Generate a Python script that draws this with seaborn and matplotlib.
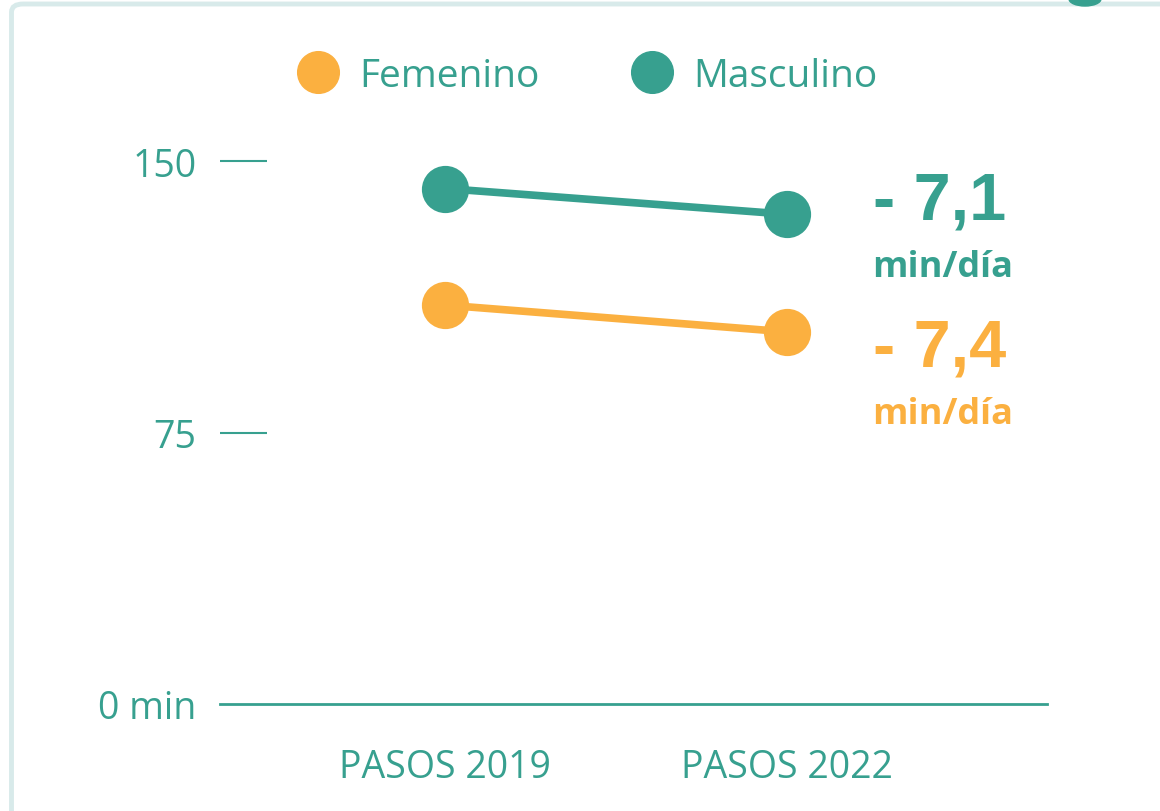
import matplotlib
matplotlib.use("Agg")
import matplotlib.pyplot as plt
import seaborn as sns
import pandas as pd
from matplotlib.lines import Line2D
from matplotlib.patches import FancyBboxPatch, Ellipse

# data (min/day of physical activity)
years = ["PASOS 2019", "PASOS 2022"]
femenino = [110.2, 102.8]
masculino = [142.4, 135.3]
y_ticks = [0, 75, 150]
y_tick_labels = ["0 min", "75", "150"]

TEAL = "#37a08f"
ORANGE = "#fbb040"
BORDER = "#d8eaea"

df = pd.DataFrame({
    "year": years * 2,
    "value": femenino + masculino,
    "sexo": ["Femenino"] * 2 + ["Masculino"] * 2,
})

sns.set_style("white")
plt.rcParams["font.family"] = ["Open Sans", "DejaVu Sans"]

fig = plt.figure(figsize=(11.6, 8.12), dpi=100)
ax = fig.add_axes([220 / 1160, 107 / 812, 827 / 1160, 564.7 / 812])

sns.lineplot(
    data=df, x="year", y="value", hue="sexo",
    palette={"Femenino": ORANGE, "Masculino": TEAL},
    marker="o", markersize=34, markeredgewidth=0, linewidth=5.5,
    legend=False, ax=ax,
)

ax.set_xlim(-0.658, 1.76)
ax.set_ylim(0, 156)
ax.set_xlabel("")
ax.set_ylabel("")
for s in ["top", "right", "left"]:
    ax.spines[s].set_visible(False)
ax.spines["bottom"].set_color(TEAL)
ax.spines["bottom"].set_linewidth(2)

ax.set_yticks(y_ticks)
ax.set_yticklabels(y_tick_labels)
ax.tick_params(axis="y", left=True, direction="in", length=34, width=1.5,
               color=TEAL, pad=17, labelsize=27, labelcolor=TEAL)
ax.tick_params(axis="x", bottom=False, length=0, pad=32, labelsize=27,
               labelcolor=TEAL)
ax.yaxis.get_major_ticks()[0].tick1line.set_visible(False)

# change labels at the right end (offsets from the last point)
for series, color, off_big, off_unit in [(masculino, TEAL, 3.4, -14.6),
                                         (femenino, ORANGE, -4.7, -22.7)]:
    delta = series[1] - series[0]
    txt = "- " + f"{abs(delta):.1f}".replace(".", ",")
    ax.text(1.25, series[1] + off_big, txt, color=color, fontsize=48,
            fontweight="bold", family=["Liberation Sans", "DejaVu Sans"],
            va="center", ha="left")
    ax.text(1.25, series[1] + off_unit, "min/día", color=color, fontsize=26,
            fontweight="bold", va="center", ha="left")

# legend
handles = [
    Line2D([], [], marker="o", linestyle="", markersize=30, color=ORANGE),
    Line2D([], [], marker="o", linestyle="", markersize=30, color=TEAL),
]
leg = fig.legend(handles, ["Femenino", "Masculino"], loc="center",
                 bbox_to_anchor=(586 / 1160, 1 - 77 / 812), ncol=2, frameon=False,
                 fontsize=28, handletextpad=0.45, columnspacing=2.3,
                 handlelength=1.2)
for t in leg.get_texts():
    t.set_color(TEAL)

# frame around the graphic
frame = FancyBboxPatch((11.5 / 1160, -0.1), 1.2, 1 - 5 / 812 + 0.1,
                       boxstyle="round,pad=0,rounding_size=0.01",
                       transform=fig.transFigure, fill=False,
                       edgecolor=BORDER, linewidth=3.5, zorder=0)
fig.patches.append(frame)
blob = Ellipse((1085 / 1160, 1.0), 32 / 1160, 14 / 812, transform=fig.transFigure,
               color=TEAL, zorder=1)
fig.patches.append(blob)

fig.savefig("out.png", dpi=100)
